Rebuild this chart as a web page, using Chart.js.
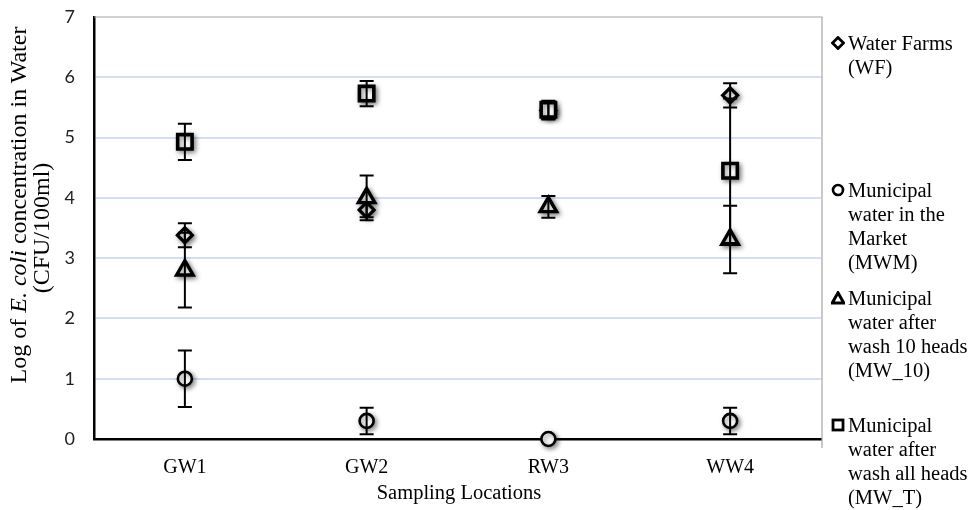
<!DOCTYPE html>
<html>
<head>
<meta charset="utf-8">
<script src="https://cdn.jsdelivr.net/npm/chart.js@4.4.1/dist/chart.umd.min.js"></script>
<style>
  html, body { margin: 0; padding: 0; background: #fff; }
  #wrap { position: relative; width: 975px; height: 510px; overflow: hidden; }
  #c { position: absolute; left: 0; top: 0; }
  .serif { font-family: "Liberation Serif", "DejaVu Serif", serif; color: #000; }
  .yt { position: absolute; transform: translate(-50%, -50%) rotate(-90deg);
        text-align: center; font-size: 24px; line-height: 24px; white-space: nowrap; }
  #xtitle { position: absolute; left: 459px; top: 481px; transform: translateX(-50%); font-size: 20.5px; white-space: nowrap; }
  .leg { position: absolute; left: 831px; font-size: 20.5px; line-height: 24px; white-space: nowrap; }
  .leg svg { position: absolute; left: 0; top: 5px; }
  .leg span { display: block; padding-left: 17px; }
</style>
</head>
<body>
<div id="wrap">
  <canvas id="c" width="975" height="510"></canvas>
  <div class="yt serif" style="left:18px; top:205px;">Log of <i>E. coli</i> concentration in Water</div>
  <div class="yt serif" style="left:41px; top:228px;">(CFU/100ml)</div>
  <div id="xtitle" class="serif">Sampling Locations</div>
  <div class="leg serif" style="top:31px">
    <svg width="14" height="14" viewBox="0 0 14 14"><path d="M7 1.5 L12.5 7 L7 12.5 L1.5 7 Z" fill="#fff" stroke="#000" stroke-width="2.8"/></svg>
    <span>Water Farms<br>(WF)</span>
  </div>
  <div class="leg serif" style="top:178px">
    <svg width="14" height="14" viewBox="0 0 14 14"><circle cx="7" cy="7" r="5" fill="#fff" stroke="#000" stroke-width="2.6"/></svg>
    <span>Municipal<br>water in the<br>Market<br>(MWM)</span>
  </div>
  <div class="leg serif" style="top:286px">
    <svg width="14" height="14" viewBox="0 0 14 14"><path d="M7 1.8 L12.8 12 L1.2 12 Z" fill="#fff" stroke="#000" stroke-width="3" stroke-linejoin="miter"/></svg>
    <span>Municipal<br>water after<br>wash 10 heads<br>(MW_10)</span>
  </div>
  <div class="leg serif" style="top:413px">
    <svg width="14" height="14" viewBox="0 0 14 14"><rect x="2" y="2" width="10" height="10" fill="#fff" stroke="#000" stroke-width="2.8"/></svg>
    <span>Municipal<br>water after<br>wash all heads<br>(MW_T)</span>
  </div>
</div>
<script>
// ---- data ----
const categories = ['GW1', 'GW2', 'RW3', 'WW4'];
const yTicks = [0, 1, 2, 3, 4, 5, 6, 7];

const wfValues   = [3.38, 3.80, 5.45, 5.70];
const wfErrors   = [0.20, 0.12, 0.15, 0.20];

const mwmValues  = [1.00, 0.30, 0.00, 0.30];
const mwmErrors  = [0.47, 0.22, 0.00, 0.22];

const mw10Values = [2.80, 4.00, 3.85, 3.31];
const mw10Errors = [0.62, 0.37, 0.18, 0.56];

const mwtValues  = [4.93, 5.73, 5.46, 4.45];
const mwtErrors  = [0.30, 0.21, 0.15, 1.20];

// ---- plugins ----
const shadowPlugin = {
  id: 'markerShadow',
  beforeDatasetsDraw(chart) {
    const ctx = chart.ctx;
    ctx.save();
    ctx.shadowColor = 'rgba(0,0,0,0.45)';
    ctx.shadowBlur = 5;
    ctx.shadowOffsetX = 2;
    ctx.shadowOffsetY = 2;
  },
  afterDatasetsDraw(chart) {
    chart.ctx.restore();
  }
};

const errorBarPlugin = {
  id: 'errorBars',
  afterDatasetsDraw(chart) {
    const ctx = chart.ctx;
    const y = chart.scales.y;
    ctx.save();
    ctx.strokeStyle = '#000';
    ctx.lineWidth = 2;
    chart.data.datasets.forEach((ds, di) => {
      const meta = chart.getDatasetMeta(di);
      ds.data.forEach((v, i) => {
        const e = ds.errors[i];
        if (!e) return;
        const px = meta.data[i].x;
        const top = y.getPixelForValue(v + e);
        const bot = y.getPixelForValue(v - e);
        const cap = 7;
        ctx.beginPath();
        ctx.moveTo(px, top); ctx.lineTo(px, bot);
        ctx.moveTo(px - cap, top); ctx.lineTo(px + cap, top);
        ctx.moveTo(px - cap, bot); ctx.lineTo(px + cap, bot);
        ctx.stroke();
      });
    });
    ctx.restore();
  }
};

const framePlugin = {
  id: 'frame',
  beforeDatasetsDraw(chart) {
    const { ctx, chartArea: a } = chart;
    ctx.save();
    ctx.strokeStyle = '#a6a6a6';
    ctx.lineWidth = 1.2;
    ctx.beginPath();
    ctx.moveTo(a.left, a.top); ctx.lineTo(a.right + 1, a.top); ctx.lineTo(a.right + 1, a.bottom + 9);
    ctx.stroke();
    ctx.restore();
  }
};

const mk = (label, data, errors, style, radius, bw, order) => ({
  label, data, errors,
  showLine: false,
  pointStyle: style,
  pointRadius: radius,
  pointHoverRadius: radius,
  pointBorderWidth: bw,
  pointBorderColor: '#000',
  pointBackgroundColor: '#fff',
  borderColor: '#000',
  backgroundColor: '#fff',
  clip: false,
  order
});

new Chart(document.getElementById('c'), {
  type: 'line',
  data: {
    labels: categories,
    datasets: [
      mk('Water Farms (WF)', wfValues, wfErrors, 'rectRot', 7.5, 3.2, 3),
      mk('Municipal water in the Market (MWM)', mwmValues, mwmErrors, 'circle', 7, 2.6, 2),
      mk('Municipal water after wash 10 heads (MW_10)', mw10Values, mw10Errors, 'triangle', 9.5, 3.4, 1),
      mk('Municipal water after wash all heads (MW_T)', mwtValues, mwtErrors, 'rect', 10.2, 3.6, 0)
    ]
  },
  options: {
    responsive: false,
    animation: false,
    events: [],
    layout: { padding: { left: 0, right: 154, top: 17, bottom: 0 } },
    plugins: { legend: { display: false }, tooltip: { enabled: false } },
    scales: {
      x: {
        type: 'category',
        offset: true,
        grid: { display: false, drawTicks: false },
        border: { display: true, color: '#000', width: 2.5 },
        ticks: { color: '#000', padding: 17, font: { family: 'Liberation Serif', size: 20 } },
        afterFit(s) { s.height = 71; }
      },
      y: {
        min: 0, max: 7,
        afterBuildTicks(s) { s.ticks = yTicks.map(v => ({ value: v })); },
        grid: {
          drawTicks: false,
          color: c => (c.tick && (c.tick.value === 0 || c.tick.value === 7)) ? 'rgba(0,0,0,0)' : '#d3def0',
          lineWidth: 2
        },
        border: { display: true, color: '#000', width: 2.5 },
        ticks: { color: '#222', padding: 19, font: { family: 'Lato', size: 18 } },
        afterFit(s) { s.width = 94; s.paddingTop = 0; s.paddingBottom = 0; }
      }
    }
  },
  plugins: [framePlugin, shadowPlugin, errorBarPlugin]
});
</script>
</body>
</html>
